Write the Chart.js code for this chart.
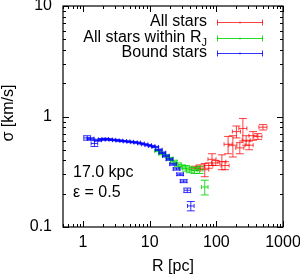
<!DOCTYPE html>
<html>
<head>
<meta charset="utf-8">
<script src="https://cdn.jsdelivr.net/npm/chart.js@4.4.0/dist/chart.umd.min.js"></script>
<style>
  html, body { margin: 0; padding: 0; background: #fff; }
  #wrap { width: 300px; height: 275px; }
</style>
</head>
<body>
<div id="wrap"><canvas id="sigmaChart" width="300" height="275"></canvas></div>
<script>
// R [pc], sigma [km/s] and sigma error for each sample
const rAll   = [48, 57, 67, 77, 86, 98, 121, 135, 150, 177, 200, 225, 250, 280, 310, 355, 420, 500];
const sigAll = [0.34, 0.35, 0.33, 0.36, 0.41, 0.38, 0.39, 0.36, 0.56, 0.55, 0.73, 0.52, 0.78, 0.61, 0.55, 0.67, 0.66, 0.80];
const errAll = [0.015, 0.015, 0.045, 0.02, 0.05, 0.02, 0.06, 0.03, 0.10, 0.12, 0.09, 0.06, 0.18, 0.06, 0.05, 0.06, 0.04, 0.045];

const rWithin   = [13.3, 15.3, 17.5, 20, 23, 26.5, 30.5, 35, 40, 47, 56, 67];
const sigWithin = [0.49, 0.46, 0.44, 0.415, 0.39, 0.365, 0.35, 0.34, 0.33, 0.325, 0.33, 0.23];
const errWithin = [0.01, 0.01, 0.01, 0.012, 0.012, 0.015, 0.015, 0.02, 0.02, 0.02, 0.025, 0.035];

const rBound   = [1.15, 1.3, 1.48, 1.68, 1.9, 2.15, 2.45, 2.75, 3.1, 3.5, 4.0, 4.5, 5.1, 5.8, 6.5, 7.4, 8.4, 9.5,
                  10.7, 12.1, 13.7, 15.5, 17.5, 19.8, 22.4, 25.3, 28.6, 32.3, 36.6, 41.4];
const sigBound = [0.64, 0.63, 0.57, 0.61, 0.62, 0.625, 0.62, 0.615, 0.61, 0.605, 0.60, 0.595, 0.59, 0.585, 0.58, 0.57, 0.56, 0.55,
                  0.54, 0.53, 0.50, 0.47, 0.44, 0.41, 0.37, 0.335, 0.30, 0.26, 0.215, 0.155];
const errBound = [0.03, 0.012, 0.035, 0.012, 0.012, 0.01, 0.01, 0.008, 0.008, 0.008, 0.007, 0.007, 0.007, 0.007, 0.007, 0.007, 0.007, 0.007,
                  0.007, 0.007, 0.007, 0.008, 0.008, 0.008, 0.008, 0.008, 0.008, 0.008, 0.01, 0.015];

const xTicks = [1, 10, 100, 1000];
const yTicks = [0.1, 1, 10];
const seriesNames = ['All stars', 'All stars within R', 'Bound stars'];

const FONT = "16px 'Liberation Sans', Arial, sans-serif";

function toPoints(r, s) {
    return r.map((x, i) => ({ x: x, y: s[i] }));
}

// gnuplot-like frame, ticks, labels, legend
const framePlugin = {
    id: 'frame',
    afterDraw(chart) {
        const ctx = chart.ctx;
        const a = chart.chartArea;
        const xs = chart.scales.x;
        const ys = chart.scales.y;
        ctx.save();
        ctx.strokeStyle = '#000';
        ctx.lineWidth = 1.2;
        ctx.strokeRect(a.left, a.top, a.right - a.left, a.bottom - a.top);

        ctx.lineWidth = 1;
        ctx.beginPath();
        // x ticks (bottom + top mirror)
        for (let d = 0.1; d <= 1000; d *= 10) {
            for (let m = 1; m <= 9; m++) {
                const v = d * m;
                if (v < xs.min || v > xs.max) continue;
                const px = Math.round(xs.getPixelForValue(v)) + 0.5;
                const len = m === 1 ? 6 : 3;
                ctx.moveTo(px, a.bottom); ctx.lineTo(px, a.bottom - len);
                ctx.moveTo(px, a.top); ctx.lineTo(px, a.top + len);
            }
        }
        // y ticks (left + right mirror)
        for (let d = 0.1; d <= 10; d *= 10) {
            for (let m = 1; m <= 9; m++) {
                const v = d * m;
                if (v < ys.min * 0.999 || v > ys.max * 1.001) continue;
                const py = Math.round(ys.getPixelForValue(v)) + 0.5;
                const len = m === 1 ? 6 : 3;
                ctx.moveTo(a.left, py); ctx.lineTo(a.left + len, py);
                ctx.moveTo(a.right, py); ctx.lineTo(a.right - len, py);
            }
        }
        ctx.stroke();

        ctx.fillStyle = '#000';
        ctx.font = FONT;
        ctx.textBaseline = 'middle';
        ctx.textAlign = 'center';
        xTicks.forEach(v => ctx.fillText(String(v), xs.getPixelForValue(v), 243));
        ctx.textAlign = 'right';
        yTicks.forEach(v => ctx.fillText(String(v), 52, ys.getPixelForValue(v)));

        // axis titles
        ctx.textAlign = 'center';
        ctx.fillText('R [pc]', (a.left + a.right) / 2, 267);
        ctx.save();
        ctx.translate(9, 113);
        ctx.rotate(-Math.PI / 2);
        ctx.fillText('\u03c3 [km/s]', 0, 0);
        ctx.restore();

        // annotations
        ctx.textAlign = 'left';
        ctx.fillText('17.0 kpc', 73, 173);
        ctx.fillText('\u03b5 = 0.5', 73, 193);

        // legend
        const legendY = [22, 37.5, 53];
        chart.data.datasets.forEach((ds, i) => {
            const y = legendY[i];
            ctx.font = FONT;
            ctx.textAlign = 'right';
            if (i === 1) {
                ctx.font = "11px 'Liberation Sans', Arial, sans-serif";
                const jw = ctx.measureText('J').width;
                ctx.fillText('J', 207, y + 5);
                ctx.font = FONT;
                ctx.fillText(seriesNames[i], 207 - jw, y);
            } else {
                ctx.fillText(seriesNames[i], 207, y);
            }
            ctx.strokeStyle = ds.borderColor;
            ctx.lineWidth = 1;
            const yy = Math.round(y) + 0.5;
            ctx.beginPath();
            ctx.moveTo(217, yy); ctx.lineTo(263, yy);
            ctx.moveTo(217.5, yy - 3); ctx.lineTo(217.5, yy + 3);
            ctx.moveTo(262.5, yy - 3); ctx.lineTo(262.5, yy + 3);
            ctx.moveTo(240, yy - 1); ctx.lineTo(240, yy + 1);
            ctx.stroke();
        });
        ctx.restore();
    }
};

// x/y error bars drawn through the chart scales
const errorBarPlugin = {
    id: 'errorBars',
    afterDatasetsDraw(chart) {
        const ctx = chart.ctx;
        const a = chart.chartArea;
        const xs = chart.scales.x;
        const ys = chart.scales.y;
        ctx.save();
        ctx.beginPath();
        ctx.rect(a.left, a.top, a.right - a.left, a.bottom - a.top);
        ctx.clip();
        chart.data.datasets.forEach(ds => {
            ctx.strokeStyle = ds.borderColor;
            ctx.lineWidth = 1;
            ctx.beginPath();
            ds.data.forEach((p, i) => {
                const e = ds.errors[i];
                const px = xs.getPixelForValue(p.x);
                const py = ys.getPixelForValue(p.y);
                const yt = ys.getPixelForValue(p.y + e);
                const yb = ys.getPixelForValue(p.y - e);
                const xl = xs.getPixelForValue(p.x / ds.binFactor);
                const xr = xs.getPixelForValue(p.x * ds.binFactor);
                // vertical bar with caps
                ctx.moveTo(px, yt); ctx.lineTo(px, yb);
                ctx.moveTo(px - 4, yt); ctx.lineTo(px + 4, yt);
                ctx.moveTo(px - 4, yb); ctx.lineTo(px + 4, yb);
                // horizontal bar with caps
                ctx.moveTo(xl, py); ctx.lineTo(xr, py);
                ctx.moveTo(xl, py - 2); ctx.lineTo(xl, py + 2);
                ctx.moveTo(xr, py - 2); ctx.lineTo(xr, py + 2);
            });
            ctx.stroke();
        });
        ctx.restore();
    }
};

const sigmaChart = new Chart(document.getElementById('sigmaChart').getContext('2d'), {
    type: 'scatter',
    data: {
        datasets: [
            {
                label: seriesNames[0],
                data: toPoints(rAll, sigAll),
                errors: errAll,
                binFactor: 1.15,
                borderColor: 'rgba(255, 0, 0, 0.75)',
                pointRadius: 0
            },
            {
                label: seriesNames[1],
                data: toPoints(rWithin, sigWithin),
                errors: errWithin,
                binFactor: 1.12,
                borderColor: 'rgba(0, 215, 0, 0.85)',
                pointRadius: 0
            },
            {
                label: seriesNames[2],
                data: toPoints(rBound, sigBound),
                errors: errBound,
                binFactor: 1.12,
                borderColor: 'rgba(0, 0, 255, 0.8)',
                pointRadius: 0
            }
        ]
    },
    options: {
        responsive: false,
        animation: false,
        events: [],
        layout: { padding: { left: 63, top: 6, right: 17, bottom: 48 } },
        plugins: {
            legend: { display: false },
            tooltip: { enabled: false }
        },
        scales: {
            x: { type: 'logarithmic', min: 0.5, max: 1000, display: false },
            y: { type: 'logarithmic', min: 0.1, max: 10, display: false }
        }
    },
    plugins: [errorBarPlugin, framePlugin]
});
</script>
</body>
</html>
